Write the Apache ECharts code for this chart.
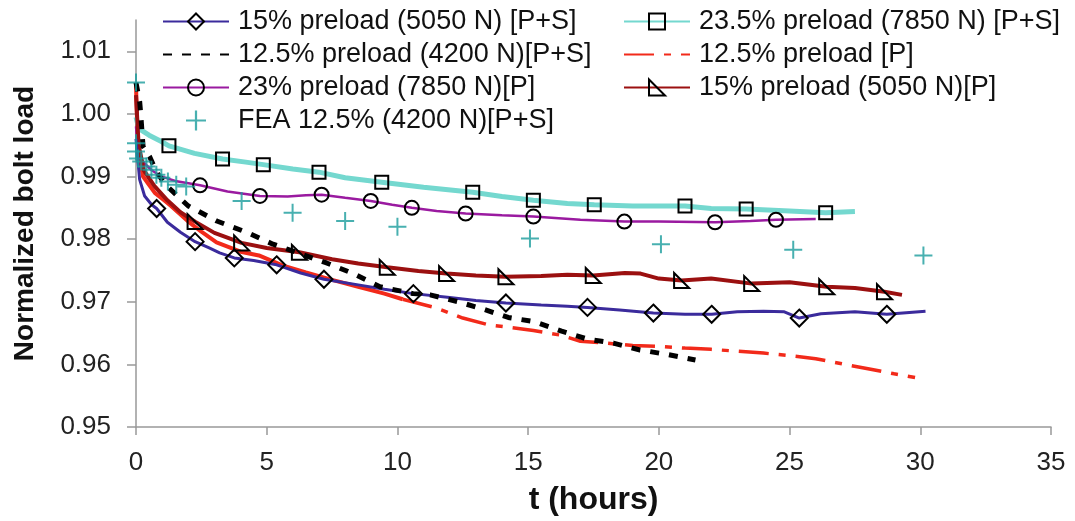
<!DOCTYPE html>
<html><head><meta charset="utf-8">
<script src="https://cdn.jsdelivr.net/npm/echarts@6/dist/echarts.min.js"></script>
<style>html,body{margin:0;padding:0;background:#fff}#c{width:1075px;height:521px}</style>
</head><body><div id="c"></div>
<script>
const xTicks = [0, 5, 10, 15, 20, 25, 30, 35];
const yTicks = [0.95, 0.96, 0.97, 0.98, 0.99, 1.00, 1.01];

const names = {
  blue: '15% preload (5050 N) [P+S]',
  black: '12.5% preload (4200 N)[P+S]',
  purple: '23% preload (7850 N)[P]',
  fea: 'FEA 12.5% (4200 N)[P+S]',
  turq: '23.5% preload (7850 N) [P+S]',
  red: '12.5% preload [P]',
  maroon: '15% preload (5050 N)[P]'
};

const blueCurve = [[0,0.996],[0.05,0.9935],[0.14,0.9895],[0.33,0.9869],[0.6,0.9855],[1.2,0.9827],[1.7,0.9811],[2.8,0.9786],[3.2,0.9778],[4.5,0.9766],[6.3,0.9746],[8.5,0.9727],[9.5,0.972],[12,0.9707],[13,0.9702],[15.5,0.9695],[16.5,0.9693],[18.5,0.9687],[21,0.968],[23,0.9684],[24,0.9685],[24.8,0.9684],[26.2,0.9681],[27.5,0.9684],[30.2,0.9685]];
const blueMarks = [[0.79,0.9849],[2.26,0.9796],[3.76,0.977],[5.38,0.9759],[7.19,0.9736],[10.61,0.9713],[14.15,0.9698],[17.27,0.9691],[19.79,0.9682],[22.02,0.968],[25.37,0.9674],[28.72,0.968]];

const turqCurve = [[0,0.9995],[0.1,0.9978],[0.2,0.9974],[0.5,0.9966],[0.97,0.9956],[2.24,0.9937],[4.2,0.9923],[6,0.9912],[8,0.9898],[11,0.9883],[14,0.9868],[16.5,0.9857],[19,0.9853],[22,0.9849],[25,0.9845],[27.5,0.9844]];
const turqMarks = [[1.26,0.9949],[3.31,0.9928],[4.87,0.9919],[7.0,0.9907],[9.4,0.9891],[12.88,0.9875],[15.2,0.9862],[17.53,0.9855],[21.0,0.9853],[23.34,0.9848],[26.38,0.9842]];

const purpleCurve = [[0,0.998],[0.08,0.9935],[0.3,0.9922],[0.6,0.991],[0.97,0.99],[1.5,0.9893],[3.5,0.9876],[5.8,0.9868],[6.5,0.987],[8,0.9866],[9.8,0.9855],[11.5,0.9845],[14,0.9838],[17,0.9831],[20,0.9828],[23.5,0.9829],[26,0.9832]];
const purpleMarks = [[2.45,0.9886],[4.74,0.9869],[7.1,0.9871],[8.98,0.9861],[10.55,0.985],[12.61,0.9841],[15.2,0.9836],[18.68,0.9828],[22.15,0.9827],[24.48,0.9831]];

const maroonCurve = [[0,1.003],[0.1,0.995],[0.3,0.991],[0.7,0.9885],[1.2,0.9862],[1.7,0.9843],[3,0.981],[5,0.9786],[7.5,0.9768],[8.5,0.9761],[10.8,0.9749],[13,0.9742],[15.5,0.9741],[16.5,0.9743],[18.7,0.9746],[19.3,0.9745],[20,0.9737],[22,0.9737],[25,0.9731],[27.5,0.9722],[29.3,0.9711]];
const maroonMarks = [[2.26,0.9828],[4.04,0.9794],[6.25,0.9779],[9.61,0.9755],[11.88,0.9745],[14.15,0.974],[17.49,0.9742],[20.87,0.9734],[23.55,0.9729],[26.42,0.9724],[28.63,0.9716]];

const redSolid = [[0,1.0045],[0.04,0.999],[0.08,0.9944],[0.27,0.99],[0.72,0.9874],[1.05,0.9863],[1.34,0.9853],[2.0,0.9828],[2.5,0.9812],[3.08,0.9795],[4,0.978],[4.7,0.9774],[5.6,0.9758],[6.5,0.9747],[7.5,0.9735],[8.5,0.9724],[9.5,0.9713],[10.2,0.9704]];
const redDash = [[10.2,0.9704],[11.5,0.969],[12.5,0.9674],[13.5,0.9663],[14.3,0.9659],[15.2,0.9654],[16.2,0.9647],[17,0.9637],[18,0.9634],[19,0.963],[20,0.9629],[21,0.9626],[22,0.9624],[23,0.9621],[24,0.9618],[25,0.9614],[26,0.9609],[27,0.9601],[28,0.9593],[29,0.9585],[29.8,0.9579]];

const blackCurve = [[0,1.005],[0.14,1.002],[0.18,1.0],[0.27,0.9948],[0.52,0.9932],[0.8,0.9906],[1.2,0.9884],[2.0,0.9853],[3.09,0.9829],[4.23,0.9811],[5.24,0.9792],[6.27,0.9777],[7.29,0.9762],[8.31,0.9745],[9.33,0.9724],[10.6,0.9713],[11.25,0.9711],[12.33,0.97],[13.3,0.9688],[14.24,0.9675],[15.26,0.9668],[16.28,0.9653],[17.3,0.964],[18.26,0.9634],[19.28,0.9623],[20.3,0.9616],[21.4,0.9607]];

const feaPoints = [[0,1.005],[0,0.9953],[0,0.994],[0.08,0.9929],[0.2,0.9924],[0.4,0.9916],[0.59,0.9911],[0.78,0.9903],[0.97,0.9898],[1.22,0.9892],[1.54,0.9887],[1.92,0.9884],[4.04,0.9861],[5.99,0.9842],[8.0,0.9829],[10.0,0.982],[15.07,0.9801],[20.08,0.9792],[25.14,0.9783],[30.12,0.9774]];

// merge curve points (no symbol) with marker points (symbol shown)
function merged(curve, marks) {
  const a = curve.map(p => ({ value: p, symbol: 'none' }));
  const b = marks.map(p => ({ value: p }));
  return a.concat(b).sort((p, q) => p.value[0] - q.value[0]);
}

const FONT = 'Liberation Sans';
const HIDDEN = { color: 'rgba(0,0,0,0)', borderColor: 'rgba(0,0,0,0)', borderWidth: 0 };
const markerStyle = { color: 'rgba(255,255,255,0)', borderColor: '#000', borderWidth: 2 };
const triPath = 'path://M0,0L0,10L10,10Z';
const plusPath = 'path://M8,0H10V8H18V10H10V18H8V10H0V8H8Z';

function markedLine(name, curve, marks, color, width, symbol, size) {
  return {
    type: 'line', name, data: merged(curve, marks),
    symbol, symbolSize: size, showSymbol: true, showAllSymbol: true,
    lineStyle: { color, width }, itemStyle: markerStyle,
    z: 3
  };
}

const thin = name => ({ name, lineStyle: { width: 2 } });

const legendCommon = {
  orient: 'vertical', itemWidth: 66, itemHeight: 20, itemGap: 6, padding: 0,
  textStyle: { fontFamily: FONT, fontSize: 27, color: '#111', padding: [0, 0, 0, 4] }
};

const option = {
  animation: false,
  backgroundColor: '#fff',
  grid: { left: 136, right: 24, top: 20, bottom: 91 },
  legend: [
    Object.assign({ left: 162, top: 8, data: [thin(names.blue), names.black, thin(names.purple), names.fea] }, legendCommon),
    Object.assign({ left: 623, top: 8, data: [thin(names.turq), names.red, thin(names.maroon)] }, legendCommon)
  ],
  xAxis: {
    type: 'value', min: 0, max: 35, interval: 5,
    name: 't (hours)', nameLocation: 'middle', nameGap: 57,
    nameTextStyle: { fontFamily: FONT, fontSize: 32, fontWeight: 'bold', color: '#111' },
    axisLine: { show: true, lineStyle: { color: '#999', width: 1.5 } },
    axisTick: { show: true, length: 8, lineStyle: { color: '#999', width: 1.5 } },
    axisLabel: { margin: 23, fontFamily: FONT, fontSize: 26, color: '#222', formatter: v => xTicks.includes(v) ? String(v) : '' },
    splitLine: { show: false }
  },
  yAxis: {
    type: 'value', min: 0.95, max: 1.015, interval: 0.01,
    name: 'Normalized bolt load', nameLocation: 'middle', nameGap: 97,
    nameTextStyle: { fontFamily: FONT, fontSize: 28, fontWeight: 'bold', color: '#111' },
    axisLine: { show: true, lineStyle: { color: '#999', width: 1.5 } },
    axisTick: { show: true, length: 9, customValues: yTicks, lineStyle: { color: '#999', width: 1.5 } },
    axisLabel: { margin: 25, fontFamily: FONT, fontSize: 26, color: '#222', customValues: yTicks, formatter: v => v.toFixed(2) },
    splitLine: { show: false }
  },
  series: [
    markedLine(names.turq, turqCurve, turqMarks, '#74d8cf', 5, 'rect', 13),
    markedLine(names.purple, purpleCurve, purpleMarks, '#9a1aa0', 2.5, 'circle', 14),
    markedLine(names.maroon, maroonCurve, maroonMarks, '#9b1010', 4, triPath, 15),
    {
      type: 'line', name: names.red + ' (dense)', data: redSolid, symbol: 'none',
      lineStyle: { color: '#f22a1a', width: 4 }, itemStyle: HIDDEN, z: 2
    },
    {
      type: 'line', name: names.red, data: redDash, symbol: 'none',
      lineStyle: { color: '#f22a1a', width: 3.5, type: [30, 10, 7, 10] }, itemStyle: HIDDEN, z: 2
    },
    markedLine(names.blue, blueCurve, blueMarks, '#3b2b9c', 3, 'diamond', 17),
    {
      type: 'line', name: names.black, data: blackCurve, symbol: 'none',
      lineStyle: { color: '#000', width: 5, type: [9, 10] }, itemStyle: HIDDEN, z: 4
    },
    {
      type: 'scatter', name: names.fea, data: feaPoints, symbol: plusPath, symbolSize: 18,
      symbolKeepAspect: true, itemStyle: { color: '#1a9c9c' }, z: 5
    }
  ]
};

echarts.init(document.getElementById('c')).setOption(option);
</script>
</body></html>
